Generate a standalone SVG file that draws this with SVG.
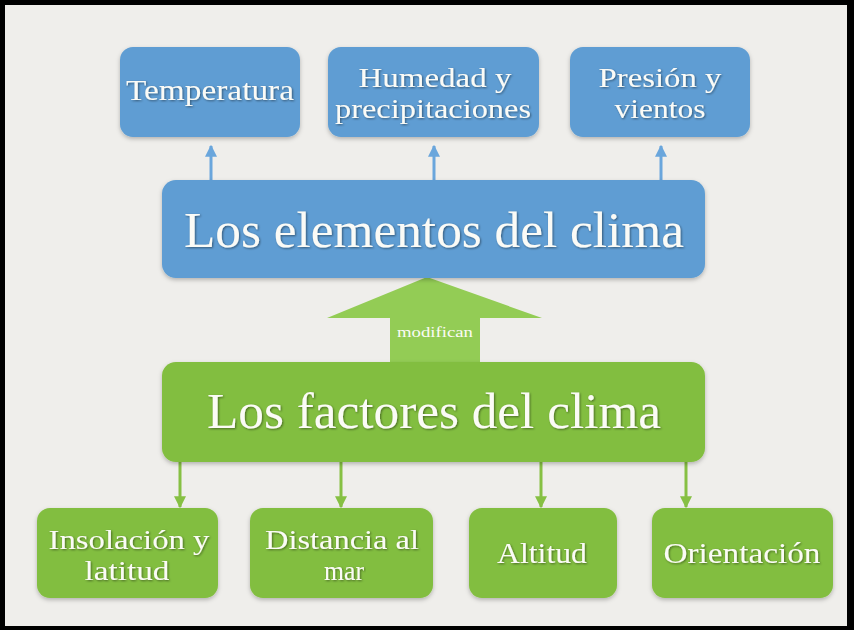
<svg xmlns="http://www.w3.org/2000/svg" width="854" height="630" viewBox="0 0 854 630">
<defs>
<filter id="sh" x="-10%" y="-10%" width="120%" height="130%">
<feDropShadow dx="0" dy="2" stdDeviation="2" flood-color="#000" flood-opacity="0.25"/>
</filter>
<filter id="ts" x="-5%" y="-20%" width="110%" height="140%">
<feDropShadow dx="1" dy="1" stdDeviation="0.8" flood-color="#000" flood-opacity="0.45"/>
</filter>
<marker id="ab" viewBox="0 0 10 10" refX="9" refY="5" markerWidth="4" markerHeight="4" orient="auto" markerUnits="strokeWidth">
<path d="M0,0 L10,5 L0,10 z" fill="#6aa6dc"/>
</marker>
<marker id="ag" viewBox="0 0 10 10" refX="9" refY="5" markerWidth="4" markerHeight="4" orient="auto" markerUnits="strokeWidth">
<path d="M0,0 L10,5 L0,10 z" fill="#86c043"/>
</marker>
</defs>
<style>
.blue{fill:#5e9dd3;}
.green{fill:#82be3f;}
.t{font-family:"Liberation Serif","DejaVu Serif",serif;fill:#fbfbf6;text-anchor:middle;}
.s{font-size:30px;}
.d{font-size:27px;}
.b{font-size:50px;}
.lb{stroke:#6aa6dc;stroke-width:3;fill:none;marker-end:url(#ab);}
.lg{stroke:#86c043;stroke-width:3;fill:none;marker-end:url(#ag);}
</style>
<rect x="0" y="0" width="854" height="630" fill="#000"/>
<rect x="5" y="5" width="842" height="621" fill="#efeeeb"/>

<g id="connectors">
<path class="lb" d="M211,180 V146"/>
<path class="lb" d="M434,180 V146"/>
<path class="lb" d="M661,180 V146"/>
<path class="lg" d="M180,462 V507"/>
<path class="lg" d="M341,462 V507"/>
<path class="lg" d="M541,462 V507"/>
<path class="lg" d="M686,462 V507"/>
<g id="modifican">
<path d="M427,277 L542,318 L480,318 L480,363 L390,363 L390,318 L327,318 Z" fill="#93cc55"/>
<text class="t" x="435" y="337" font-size="15" textLength="76" lengthAdjust="spacingAndGlyphs">modifican</text>
</g>
</g>

<g id="temperatura">
<rect class="blue" x="120" y="47" width="180" height="90" rx="13" filter="url(#sh)"/>
<text class="t s" x="210" y="100" textLength="168" lengthAdjust="spacingAndGlyphs" filter="url(#ts)">Temperatura</text>
</g>
<g id="humedad">
<rect class="blue" x="328" y="47" width="211" height="90" rx="13" filter="url(#sh)"/>
<text class="t d" x="435" y="87" textLength="153" lengthAdjust="spacingAndGlyphs" filter="url(#ts)">Humedad y</text>
<text class="t d" x="433" y="118" textLength="196" lengthAdjust="spacingAndGlyphs" filter="url(#ts)">precipitaciones</text>
</g>
<g id="presion">
<rect class="blue" x="570" y="47" width="180" height="90" rx="13" filter="url(#sh)"/>
<text class="t d" x="660" y="87" textLength="123" lengthAdjust="spacingAndGlyphs" filter="url(#ts)">Presión y</text>
<text class="t d" x="660" y="118" textLength="91" lengthAdjust="spacingAndGlyphs" filter="url(#ts)">vientos</text>
</g>
<g id="elementos">
<rect class="blue" x="162" y="180" width="543" height="98" rx="14" filter="url(#sh)"/>
<text class="t b" x="434" y="247" textLength="500" lengthAdjust="spacingAndGlyphs" filter="url(#ts)">Los elementos del clima</text>
</g>
<g id="factores">
<rect class="green" x="162" y="362" width="543" height="100" rx="14" filter="url(#sh)"/>
<text class="t b" x="434" y="428" textLength="454" lengthAdjust="spacingAndGlyphs" filter="url(#ts)">Los factores del clima</text>
</g>
<g id="insolacion">
<rect class="green" x="37" y="508" width="181" height="90" rx="13" filter="url(#sh)"/>
<text class="t d" x="129" y="549" textLength="161" lengthAdjust="spacingAndGlyphs" filter="url(#ts)">Insolación y</text>
<text class="t d" x="127" y="580" textLength="85" lengthAdjust="spacingAndGlyphs" filter="url(#ts)">latitud</text>
</g>
<g id="distancia">
<rect class="green" x="250" y="508" width="183" height="90" rx="13" filter="url(#sh)"/>
<text class="t d" x="342" y="549" textLength="154" lengthAdjust="spacingAndGlyphs" filter="url(#ts)">Distancia al</text>
<text class="t d" x="344" y="580" textLength="40" lengthAdjust="spacingAndGlyphs" filter="url(#ts)">mar</text>
</g>
<g id="altitud">
<rect class="green" x="469" y="508" width="148" height="90" rx="13" filter="url(#sh)"/>
<text class="t s" x="542" y="563" textLength="90" lengthAdjust="spacingAndGlyphs" filter="url(#ts)">Altitud</text>
</g>
<g id="orientacion">
<rect class="green" x="652" y="508" width="181" height="90" rx="13" filter="url(#sh)"/>
<text class="t s" x="742" y="563" textLength="157" lengthAdjust="spacingAndGlyphs" filter="url(#ts)">Orientación</text>
</g>
</svg>
